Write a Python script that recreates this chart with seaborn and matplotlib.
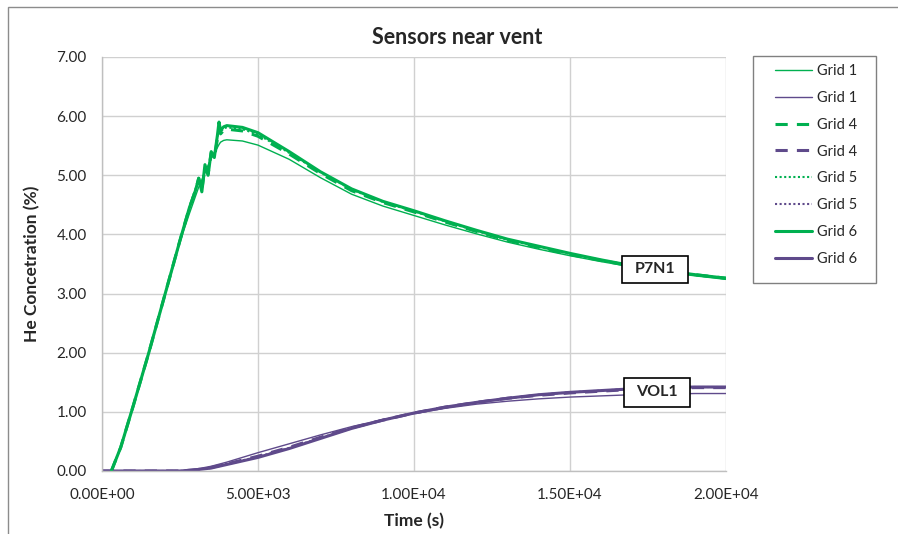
import matplotlib
matplotlib.use("Agg")
import matplotlib.pyplot as plt
from matplotlib.lines import Line2D
from matplotlib.patches import Rectangle
import numpy as np
import pandas as pd
import seaborn as sns

# ---- data -------------------------------------------------------------
t_p7n1 = [300, 600, 1000, 1500, 2000, 2500, 2800, 3000, 3100, 3200, 3300,
          3400, 3500, 3600, 3700, 3750, 3800, 3900, 4000, 4500, 5000, 6000,
          7000, 8000, 9000, 10000, 11000, 12000, 13000, 14000, 15000, 16000,
          17000, 18000, 19000, 20000]

p7n1_grid1 = [0.00, 0.40, 1.10, 2.00, 2.95, 3.88, 4.35, 4.65, 4.80, 4.92, 5.05,
              5.17, 5.28, 5.38, 5.47, 5.52, 5.56, 5.59, 5.60, 5.58, 5.51, 5.27,
              4.96, 4.68, 4.48, 4.32, 4.16, 4.01, 3.87, 3.75, 3.64, 3.54,
              3.45, 3.37, 3.30, 3.24]
p7n1_grid4 = [0.00, 0.40, 1.10, 2.00, 2.95, 3.90, 4.45, 4.75, 4.95, 4.75, 5.15,
              5.02, 5.38, 5.28, 5.62, 5.80, 5.70, 5.76, 5.78, 5.75, 5.66, 5.36,
              5.03, 4.74, 4.54, 4.38, 4.21, 4.05, 3.90, 3.78, 3.66, 3.56,
              3.46, 3.38, 3.32, 3.26]
p7n1_grid5 = [0.00, 0.40, 1.10, 2.00, 2.95, 3.90, 4.45, 4.78, 4.90, 4.78, 5.12,
              5.06, 5.33, 5.31, 5.66, 5.84, 5.74, 5.79, 5.81, 5.78, 5.69, 5.38,
              5.05, 4.76, 4.55, 4.39, 4.22, 4.06, 3.91, 3.79, 3.67, 3.57,
              3.47, 3.39, 3.32, 3.26]
p7n1_grid6 = [0.00, 0.40, 1.10, 2.00, 2.95, 3.90, 4.45, 4.75, 4.95, 4.72, 5.18,
              5.00, 5.40, 5.30, 5.68, 5.90, 5.76, 5.82, 5.84, 5.81, 5.72, 5.40,
              5.06, 4.77, 4.56, 4.40, 4.23, 4.07, 3.92, 3.80, 3.68, 3.57,
              3.47, 3.39, 3.32, 3.26]

t_vol1 = [0, 1000, 2000, 2500, 3000, 3500, 4000, 5000, 6000, 7000, 8000, 9000,
          10000, 11000, 12000, 13000, 14000, 15000, 16000, 17000, 18000,
          19000, 20000]

vol1_grid1 = [0.00, 0.00, 0.00, 0.00, 0.03, 0.08, 0.15, 0.31, 0.46, 0.61, 0.75,
              0.87, 0.97, 1.06, 1.13, 1.18, 1.22, 1.25, 1.27, 1.29, 1.30,
              1.31, 1.31]
vol1_grid4 = [0.00, 0.00, 0.00, 0.00, 0.02, 0.06, 0.12, 0.25, 0.40, 0.57, 0.73,
              0.86, 0.98, 1.08, 1.16, 1.23, 1.28, 1.32, 1.35, 1.38, 1.40,
              1.41, 1.41]
vol1_grid5 = [0.00, 0.00, 0.00, 0.00, 0.02, 0.06, 0.12, 0.24, 0.39, 0.56, 0.72,
              0.86, 0.98, 1.08, 1.16, 1.23, 1.29, 1.33, 1.36, 1.39, 1.41,
              1.42, 1.42]
vol1_grid6 = [0.00, 0.00, 0.00, 0.00, 0.02, 0.05, 0.11, 0.23, 0.38, 0.55, 0.72,
              0.86, 0.98, 1.08, 1.16, 1.23, 1.29, 1.33, 1.36, 1.39, 1.41,
              1.42, 1.42]

grid_names = ["Grid 1", "Grid 4", "Grid 5", "Grid 6"]
x_ticks = [0, 5000, 10000, 15000, 20000]
x_tick_labels = ["0.00E+00", "5.00E+03", "1.00E+04", "1.50E+04", "2.00E+04"]
y_ticks = [0, 1, 2, 3, 4, 5, 6, 7]

# ---- style ------------------------------------------------------------
GREEN = "#00B050"
PURPLE = "#5F4A8B"
TEXT = "#262626"
grid_style = {
    "Grid 1": dict(linestyle="-", linewidth=1.0),
    "Grid 4": dict(linestyle=(0, (4, 3)), linewidth=2.2),
    "Grid 5": dict(linestyle=(0, (1, 1.2)), linewidth=1.5),
    "Grid 6": dict(linestyle="-", linewidth=2.2),
}

sns.set_theme(style="white")
plt.rcParams["font.family"] = ["Lato", "DejaVu Sans"]

W, H = 898, 534
fig = plt.figure(figsize=(W / 100, H / 100), dpi=100)
ax = fig.add_axes([102 / W, 1 - 471 / H, 624 / W, 414 / H])

p7n1 = dict(zip(grid_names, [p7n1_grid1, p7n1_grid4, p7n1_grid5, p7n1_grid6]))
vol1 = dict(zip(grid_names, [vol1_grid1, vol1_grid4, vol1_grid5, vol1_grid6]))

handles = []
for g in grid_names:
    df_v = pd.DataFrame({"t": t_vol1, "c": vol1[g]})
    sns.lineplot(data=df_v, x="t", y="c", ax=ax, color=PURPLE,
                 **grid_style[g], legend=False)
    df_p = pd.DataFrame({"t": t_p7n1, "c": p7n1[g]})
    sns.lineplot(data=df_p, x="t", y="c", ax=ax, color=GREEN,
                 **grid_style[g], legend=False)
    handles.append(Line2D([], [], color=GREEN, label=g, **grid_style[g]))
    handles.append(Line2D([], [], color=PURPLE, label=g, **grid_style[g]))

ax.set_xlim(0, 20000)
ax.set_ylim(0, 7)
ax.set_xticks(x_ticks)
ax.set_xticklabels(x_tick_labels)
ax.set_yticks(y_ticks)
ax.set_yticklabels([f"{v:.2f}" for v in y_ticks])
ax.tick_params(axis="both", labelsize=11, labelcolor=TEXT, length=5,
               color="#BFBFBF", direction="out", width=1)
ax.tick_params(axis="x", pad=7)
ax.tick_params(axis="y", pad=6)
ax.grid(True, color="#D0D0D0", linewidth=1.0)
ax.set_axisbelow(True)
for side in ["top", "right"]:
    ax.spines[side].set_visible(False)
for side in ["left", "bottom"]:
    ax.spines[side].set_color("#BFBFBF")
    ax.spines[side].set_linewidth(1.0)

ax.set_xlabel("Time (s)", fontsize=12.5, fontweight="bold", labelpad=8,
              color=TEXT)
ax.set_ylabel("He Concetration (%)", fontsize=12.5, fontweight="bold",
              labelpad=12, color=TEXT)
fig.text(457 / W, 1 - 38 / H, "Sensors near vent", ha="center", va="center",
         fontsize=15.5, fontweight="bold", color=TEXT)

# sensor labels with boxed frames
def boxed_label(text, xc, yc, w_px, h_px):
    w = w_px * 20000 / 624
    h = h_px * 7 / 414
    ax.add_patch(Rectangle((xc - w / 2, yc - h / 2), w, h, facecolor="white",
                           edgecolor="black", linewidth=1.2, zorder=5))
    ax.text(xc, yc, text, ha="center", va="center", fontsize=11.5,
            fontweight="bold", color=TEXT, zorder=6)

boxed_label("P7N1", 17724, 3.41, 66, 27)
boxed_label("VOL1", 17788, 1.33, 66, 29)

# legend with its frame drawn as a separate rectangle
fig.patches.append(Rectangle((753 / W, 1 - 283 / H), 123 / W, 227 / H,
                             transform=fig.transFigure, facecolor="white",
                             edgecolor="#808080", linewidth=1.0))
leg = fig.legend(handles=handles, loc="upper left",
                 bbox_to_anchor=(775 / W, 1 - 64 / H), fontsize=10.5,
                 frameon=False, handlelength=2.55, labelspacing=0.88,
                 borderpad=0, handletextpad=0.35, borderaxespad=0)
for t in leg.get_texts():
    t.set_color(TEXT)

# outer chart-area border
fig.patches.append(Rectangle((8 / W, -0.2), 1.3, 1.2 - 7 / H,
                             transform=fig.transFigure, fill=False,
                             edgecolor="#8C8C8C", linewidth=1.0))

fig.savefig("out.png", dpi=100)
